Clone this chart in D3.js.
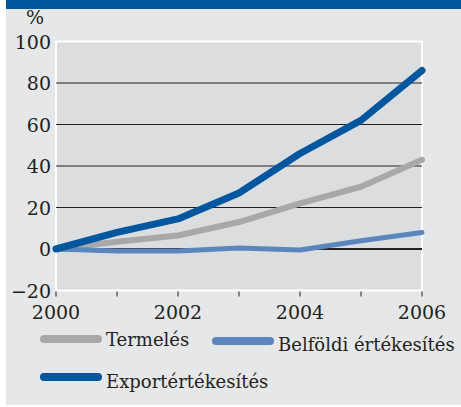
<!DOCTYPE html>
<html>
<head>
<meta charset="utf-8">
<script src="https://cdn.jsdelivr.net/npm/d3@7"></script>
<style>
body { margin: 0; background: #fff; }
text { font-family: "DejaVu Serif", "Liberation Serif", serif; fill: #231f20; }
</style>
</head>
<body>
<div id="chart"></div>
<script>
var years = [2000, 2001, 2002, 2003, 2004, 2005, 2006];
var termeles = [0, 3.5, 6.5, 13, 22, 30, 43];
var belfoldi = [0, -1, -1, 0.5, -0.5, 4, 8];
var export_ = [0, 8, 14.5, 27, 46, 62, 86];
var yTicks = [-20, 0, 20, 40, 60, 80, 100];
var xLabels = [2000, 2002, 2004, 2006];
var seriesNames = ["Termelés", "Belföldi értékesítés", "Exportértékesítés"];
var colors = ['#a7a8aa', '#5b86bd', '#0057a0'];

var svg = d3.select("#chart").append("svg").attr('width', 461).attr('height', 407);
svg.append("rect").attr('x', 6).attr('y', 0).attr('width', 455).attr('height', 405).attr('fill', '#e6e7e8');
svg.append("rect").attr('x', 6).attr('y', 0).attr('width', 455).attr('height', 9).attr('fill', '#00569a');

var x = d3.scaleLinear().domain([2000, 2006]).range([56, 422]);
var y = d3.scaleLinear().domain([-20, 100]).range([290.5, 41.5]);

// plot area
svg.append("rect").attr('x', x(2000)).attr('y', y(100)).attr('width', x(2006) - x(2000)).attr('height', y(-20) - y(100))
  .attr('fill', '#dcdddf').attr('stroke', '#fff').attr('stroke-width', 2);

// grid
svg.selectAll("line.grid").data(yTicks.filter(function(d){ return d > -20 && d < 100; }))
  .enter().append("line").attr('class', 'grid')
  .attr('x1', x(2000)).attr('x2', x(2006))
  .attr('y1', function(d){ return y(d); }).attr('y2', function(d){ return y(d); })
  .attr('stroke', '#231f20').attr('stroke-width', function(d){ return d == 0 ? 2.2 : 1; });

// y labels
svg.selectAll("text.ylab").data(yTicks).enter().append("text").attr('class', 'ylab')
  .attr('x', 51).attr('y', function(d){ return y(d) + 7; })
  .attr('text-anchor', 'end').attr('font-size', '19px')
  .text(function(d){ return d < 0 ? '\u2212' + Math.abs(d) : d; });
svg.append("text").attr('x', 35).attr('y', 24).attr('text-anchor', 'middle').attr('font-size', '19px').text('%');

// x ticks
svg.selectAll("line.xt").data(years).enter().append("line").attr('class', 'xt')
  .attr('x1', function(d){ return x(d); }).attr('x2', function(d){ return x(d); })
  .attr('y1', y(-20) + 1).attr('y2', y(-20) + 6)
  .attr('stroke', '#231f20').attr('stroke-width', 1);
svg.selectAll("text.xlab").data(xLabels).enter().append("text").attr('class', 'xlab')
  .attr('x', function(d){ return x(d); }).attr('y', 319)
  .attr('text-anchor', 'middle').attr('font-size', '19px').text(function(d){ return d; });

// lines
var line = d3.line().x(function(d, i){ return x(years[i]); }).y(function(d){ return y(d); });
var series = [termeles, belfoldi, export_];
var widths = [6, 5, 7];
svg.selectAll("path.series").data(series).enter().append("path").attr('class', 'series')
  .attr('d', line).attr('fill', 'none')
  .attr('stroke', function(d, i){ return colors[i]; })
  .attr('stroke-width', function(d, i){ return widths[i]; })
  .attr('stroke-linecap', 'round').attr('stroke-linejoin', 'round');

// legend
var legPos = [[44, 339], [216, 341], [44, 377]];
var leg = svg.selectAll("g.leg").data(seriesNames).enter().append("g").attr('class', 'leg')
  .attr('transform', function(d, i){ return 'translate(' + legPos[i][0] + ',' + legPos[i][1] + ')'; });
leg.append("line").attr('x1', 0).attr('x2', 54).attr('y1', 0).attr('y2', 0)
  .attr('stroke', function(d, i){ return colors[i]; }).attr('stroke-width', 8).attr('stroke-linecap', 'round');
leg.append("text").attr('x', 62).attr('y', function(d, i){ return i == 1 ? 10 : (i == 2 ? 11 : 7); })
  .attr('font-size', '18px').text(function(d){ return d; });
</script>
</body>
</html>
